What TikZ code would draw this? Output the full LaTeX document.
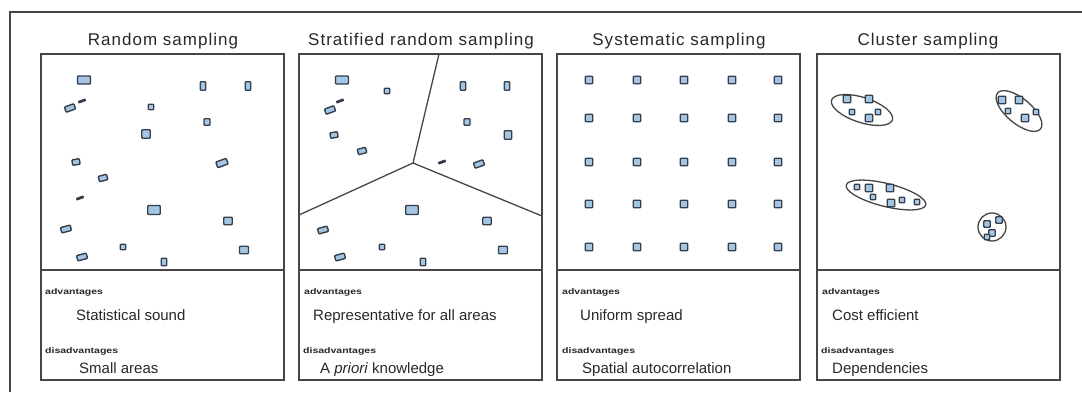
\documentclass[tikz,border=0pt]{standalone}
\usepackage{fontspec}
\setmainfont{Liberation Sans}
\newfontfamily\titlefont[LetterSpace=6]{Liberation Sans}
\definecolor{framegray}{RGB}{70,70,70}
\definecolor{sampfill}{RGB}{165,198,226}
\definecolor{sampedge}{RGB}{52,62,76}
\definecolor{inkgray}{RGB}{40,40,40}

% one sample plot: centre x, centre y, width, height, rotation
\newcommand\smp[5]{\draw[samp, shift={(#1,#2)}, rotate=#5] (-#3/2,-#4/2) rectangle (#3/2,#4/2);}
% one short dark transect bar: centre x, centre y, rotation
\newcommand\transect[3]{\fill[sampedge, shift={(#1,#2)}, rotate=#3, rounded corners=0.6pt] (-4,-1.4) rectangle (4,1.4);}

\begin{document}
\begin{tikzpicture}[x=1pt, y=-1pt,
  samp/.style={draw=sampedge, fill=sampfill, line width=1.4pt, rounded corners=0.8pt},
  panel/.style={draw=framegray, line width=1.3pt},
  divider/.style={draw=framegray, line width=2.2pt},
  boundary/.style={draw=framegray, line width=1.3pt},
  title/.style={font=\titlefont\fontsize{17}{20}\selectfont, text=inkgray, inner sep=0pt, anchor=base},
  tag/.style={font=\bfseries\fontsize{10.5}{12}\selectfont, text=black!85, inner sep=0pt, anchor=base west, yscale=0.78},
  point/.style={font=\fontsize{15}{18}\selectfont, text=inkgray, inner sep=0pt, anchor=base west}]

\useasboundingbox (0,0) rectangle (1082,392);
\fill[white] (0,0) rectangle (1082,392);

% outer frame
\draw[framegray, line width=1.5pt] (10,392) -- (10,12) -- (1082,12);

% the four panels with their plot area and text area
\foreach \L in {41,299,557,817} {
  \draw[panel] (\L,54) rectangle (\L+243,380);
  \draw[divider] (\L,270) -- (\L+243,270);
}

% titles
\node[title] (t1) at (163,45) {Random sampling};
\node[title] (t2) at (421,45) {Stratified random sampling};
\node[title] (t3) at (679,45) {Systematic sampling};
\node[title] (t4) at (928,45) {Cluster sampling};

% ---- random sampling
\smp{84}{80}{13}{8}{0}
\smp{203}{86}{5.5}{8.5}{0}
\smp{248}{86}{5.5}{8.5}{0}
\smp{70}{108}{10}{5.5}{20}
\transect{82}{101}{20}
\smp{151}{107}{5.5}{5.5}{0}
\smp{207}{122}{6}{6.5}{0}
\smp{146}{134}{8.5}{8.5}{0}
\smp{76}{162}{7.5}{5.5}{10}
\smp{222}{163}{11}{6}{20}
\smp{103}{178}{8.5}{5.5}{15}
\transect{80}{198}{20}
\smp{154}{210}{12.5}{9}{0}
\smp{228}{221}{8.5}{7.5}{0}
\smp{66}{229}{10}{5.5}{15}
\smp{123}{247}{5.5}{5.5}{0}
\smp{82}{257}{10}{5.5}{15}
\smp{164}{262}{5.5}{7.5}{0}
\smp{244}{250}{9}{7.5}{0}

% ---- stratified random sampling: strata boundaries
\coordinate (jn) at (413,163);
\draw[boundary] (439,54) -- (jn) -- (299,215);
\draw[boundary] (jn) -- (542,216);
\smp{342}{80}{13}{8}{0}
\smp{387}{91}{5.5}{5.5}{0}
\smp{330}{110}{10}{5.5}{20}
\transect{340}{101}{20}
\smp{334}{135}{7.5}{5.5}{10}
\smp{362}{151}{8.5}{5.5}{15}
\smp{463}{86}{5.5}{8.5}{0}
\smp{507}{86}{5.5}{8.5}{0}
\smp{467}{122}{6}{6.5}{0}
\smp{508}{135}{7.5}{8.5}{0}
\transect{442}{162}{20}
\smp{479}{164}{10}{5.5}{20}
\smp{412}{210}{12.5}{9}{0}
\smp{487}{221}{8.5}{7.5}{0}
\smp{323}{230}{10}{5.5}{15}
\smp{382}{247}{5.5}{5.5}{0}
\smp{340}{257}{10}{5.5}{15}
\smp{423}{262}{5.5}{7.5}{0}
\smp{503}{250}{9}{7.5}{0}

% ---- systematic sampling: regular grid
\foreach \gx in {589,637,684,732,778}
  \foreach \gy in {80,118,162,204,247}
    {\smp{\gx}{\gy}{7.5}{7.5}{0}}

% ---- cluster sampling
\draw[boundary] (862,110) ellipse[x radius=32, y radius=12.5, rotate=-18];
\draw[boundary] (1019,111) ellipse[x radius=28, y radius=12.5, rotate=-40];
\draw[boundary] (886,195) ellipse[x radius=41, y radius=11.5, rotate=-14];
\draw[boundary] (992,227) circle[radius=14];
\smp{847}{99}{7.5}{7.5}{0}
\smp{852}{112}{5.5}{5.5}{0}
\smp{869}{99}{7.5}{7.5}{0}
\smp{878}{112}{5.5}{5.5}{0}
\smp{869}{118}{7.5}{7.5}{0}
\smp{1002}{100}{7.5}{7.5}{0}
\smp{1008}{111}{5.5}{5.5}{0}
\smp{1019}{100}{7.5}{7.5}{0}
\smp{1025}{118}{7.5}{7.5}{0}
\smp{1036}{112}{5.5}{5.5}{0}
\smp{857}{187}{5.5}{5.5}{0}
\smp{869}{188}{7.5}{7.5}{0}
\smp{873}{197}{5.5}{5.5}{0}
\smp{890}{188}{7.5}{7.5}{0}
\smp{891}{203}{7.5}{7.5}{0}
\smp{902}{200}{5.5}{5.5}{0}
\smp{917}{202}{5.5}{5.5}{0}
\smp{987}{224}{6.5}{6.5}{0}
\smp{999}{220}{6.5}{6.5}{0}
\smp{992}{233}{6.5}{6.5}{0}
\smp{987}{237}{5.5}{5.5}{0}

% ---- advantages / disadvantages
\node[tag]   (a1) at (45,294)  {advantages};
\node[point] (p1) at (76,320)  {Statistical sound};
\node[tag]   (d1) at (45,353)  {disadvantages};
\node[point] (q1) at (79,373)  {Small areas};

\node[tag]   (a2) at (304,294) {advantages};
\node[point] (p2) at (313,320) {Representative for all areas};
\node[tag]   (d2) at (303,353) {disadvantages};
\node[point] (q2) at (320,373) {A \textit{priori} knowledge};

\node[tag]   (a3) at (562,294) {advantages};
\node[point] (p3) at (580,320) {Uniform spread};
\node[tag]   (d3) at (562,353) {disadvantages};
\node[point] (q3) at (582,373) {Spatial autocorrelation};

\node[tag]   (a4) at (822,294) {advantages};
\node[point] (p4) at (832,320) {Cost efficient};
\node[tag]   (d4) at (821,353) {disadvantages};
\node[point] (q4) at (832,373) {Dependencies};
\end{tikzpicture}
\end{document}
